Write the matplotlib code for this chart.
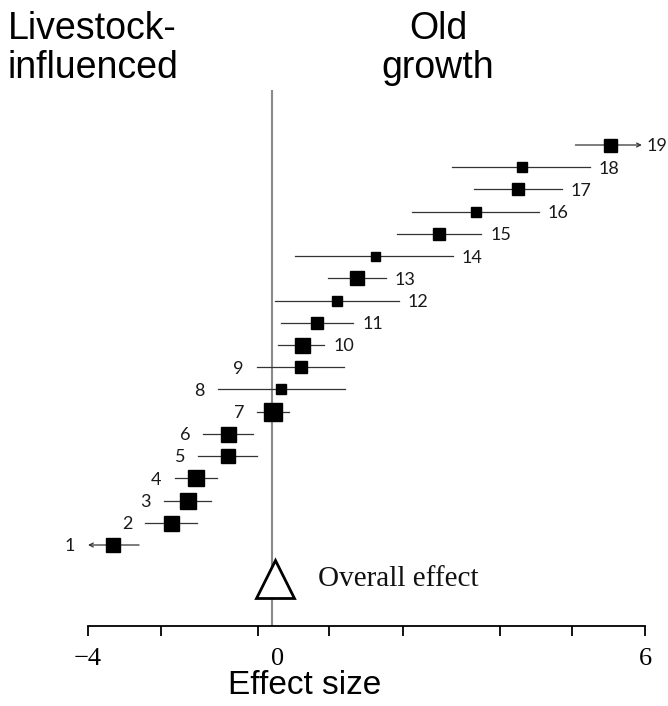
import numpy as np
import matplotlib
matplotlib.use("Agg")
import matplotlib.pyplot as plt
from matplotlib.transforms import ScaledTranslation

# ---- data ----
study = list(range(1, 20))
estimate = [-3.46, -2.20, -1.83, -1.66, -0.96, -0.96, 0.01, 0.145, 0.46, 0.49,
            0.73, 1.05, 1.37, 1.66, 2.69, 3.28, 3.95, 4.02, 5.43]
ci_low = [-4.0, -2.75, -2.34, -2.11, -1.60, -1.49, -0.32, -1.17, -0.33, 0.10,
          0.145, 0.05, 0.90, 0.375, 2.01, 2.26, 3.25, 2.90, 4.88]
ci_high = [-2.89, -1.64, -1.33, -1.20, -0.32, -0.42, 0.27, 1.17, 1.16, 0.84,
           1.31, 2.04, 1.83, 2.91, 3.37, 4.29, 4.66, 5.11, 5.95]
weight_px = [14, 15, 16, 16, 14, 15, 18, 10, 12, 15, 12, 10, 14, 9, 12, 10, 12, 10, 13]
trunc_left = [1]
trunc_right = [19]
overall_effect = 0.05
tick_labels = {-4: "\u22124", 0: "0", 6: "6"}
minor_ticks = [-2.41, -0.315, 0.917, 2.107, 3.667, 4.825]

# ---- figure ----
W, H, DPI = 668, 706, 100
fig = plt.figure(figsize=(W / DPI, H / DPI), dpi=DPI)
ax = fig.add_axes([88 / W, 1 - 626 / H, (645 - 88) / W, (626 - 90) / H])

NEG, POS = 46.0, 62.17

def fwd(x):
    x = np.asarray(x, dtype=float)
    return np.where(x < 0, x * NEG, x * POS)

def inv(y):
    y = np.asarray(y, dtype=float)
    return np.where(y < 0, y / NEG, y / POS)

ax.set_xscale("function", functions=(fwd, inv))
ax.set_xlim(-4, 6)
ax.set_ylim(-2.645, 21.475)

# zero line
ax.axvline(0, color="#8a8a8a", lw=1.5, zorder=1)

line_col = "#333333"
for s, e, lo, hi, w in zip(study, estimate, ci_low, ci_high, weight_px):
    if s in trunc_left:
        ax.annotate("", xy=(lo, s), xytext=(hi, s),
                    arrowprops=dict(arrowstyle="->", lw=0.9, color=line_col,
                                    shrinkA=0, shrinkB=0, mutation_scale=7))
    elif s in trunc_right:
        ax.annotate("", xy=(hi, s), xytext=(lo, s),
                    arrowprops=dict(arrowstyle="->", lw=0.9, color=line_col,
                                    shrinkA=0, shrinkB=0, mutation_scale=7))
    else:
        ax.plot([lo, hi], [s, s], color=line_col, lw=0.9, zorder=2)
    ax.plot([e], [s], marker="s", ms=w * 0.72, color="black", mec="black", zorder=3,
            linestyle="none")
    if s <= 9:
        ax.annotate(str(s), xy=(lo, s), xytext=(-9.5, -1), textcoords="offset points",
                    ha="right", va="center", fontsize=13, family="Lato", color="#1a1a1a")
    else:
        dx = 3 if s in trunc_right else 6.5
        ax.annotate(str(s), xy=(hi, s), xytext=(dx, -1), textcoords="offset points",
                    ha="left", va="center", fontsize=13, family="Lato", color="#1a1a1a",
                    annotation_clip=False)

# overall effect
ov_y = -0.53
ax.plot([overall_effect], [ov_y], marker="^", ms=27, mfc="white", mec="black", mew=2,
        linestyle="none", zorder=4)
ax.annotate("Overall effect", xy=(overall_effect, ov_y), xytext=(31, 0),
            textcoords="offset points", ha="left", va="center",
            fontsize=21, family="Liberation Serif", color="#111111")

# axes styling
for sp in ["left", "right", "top"]:
    ax.spines[sp].set_visible(False)
ax.spines["bottom"].set_linewidth(1.3)
ax.set_yticks([])
ax.set_xticks(list(tick_labels.keys()))
ax.set_xticklabels(list(tick_labels.values()), family="Liberation Serif", fontsize=19)
ax.set_xticks(minor_ticks, minor=True)
ax.tick_params(axis="x", which="both", direction="out", length=7.5, width=1.3, pad=8)
ax.tick_params(axis="x", which="minor", labelbottom=False)
zero_tick = ax.xaxis.get_major_ticks()[1]
zero_tick.tick1line.set_visible(False)
zero_tick.label1.set_transform(zero_tick.label1.get_transform()
                               + ScaledTranslation(6 / DPI, 0, fig.dpi_scale_trans))

fig.text(305 / W, 1 - 686 / H, "Effect size", ha="center", va="center",
         fontsize=24, family="Liberation Sans")
fig.text(8 / W, 1 - 11 / H, "Livestock-\ninfluenced", ha="left", va="top",
         fontsize=27, family="Liberation Sans", linespacing=1.12)
fig.text(438 / W, 1 - 11 / H, "Old\ngrowth", ha="center", va="top",
         fontsize=27, family="Liberation Sans", linespacing=1.12, multialignment="center")

fig.savefig("out.png", dpi=DPI)
